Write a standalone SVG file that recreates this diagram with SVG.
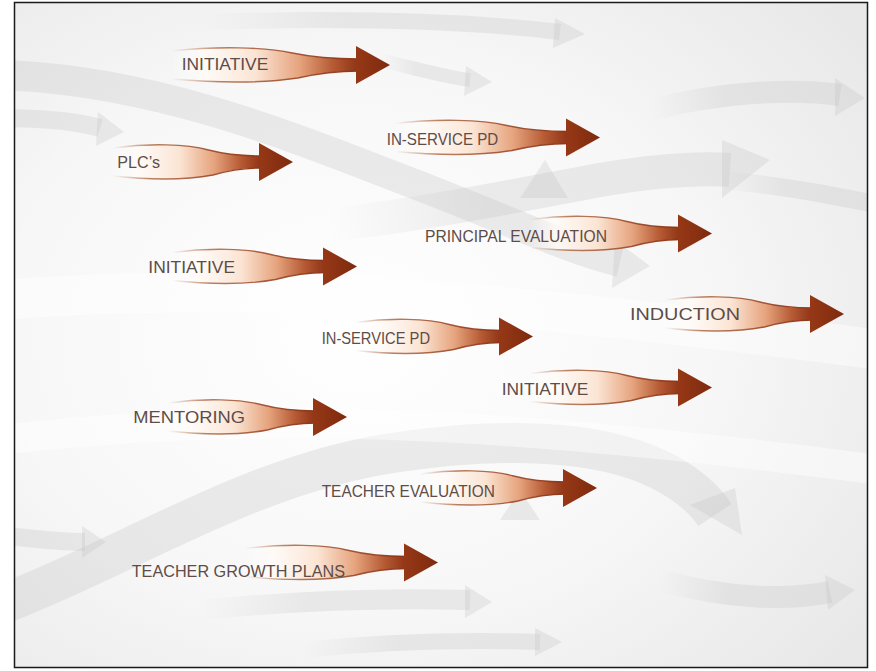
<svg xmlns="http://www.w3.org/2000/svg" xmlns:xlink="http://www.w3.org/1999/xlink" width="876" height="671" viewBox="0 0 876 671">
<style>
.lbl{font-family:"Liberation Sans","DejaVu Sans",sans-serif;font-size:16.5px;fill:#5e4c48;}
.sw{fill:none;stroke:#c4c4c4;stroke-linecap:butt;opacity:0.3;}
.fd{stroke:url(#swFade);}
.swh{fill:#c4c4c4;opacity:0.3;}
.wb{fill:none;stroke:#ffffff;opacity:0.45;}
</style>
<defs>
<clipPath id="frame"><rect x="15" y="3" width="852" height="664"/></clipPath>
<linearGradient id="swFade" x1="0" y1="0" x2="1" y2="0">
<stop offset="0" stop-color="#c4c4c4" stop-opacity="0"/>
<stop offset="0.4" stop-color="#c4c4c4" stop-opacity="1"/>
<stop offset="1" stop-color="#c4c4c4" stop-opacity="1"/>
</linearGradient>
<radialGradient id="bg" cx="0.4" cy="0.5" r="0.75">
<stop offset="0" stop-color="#ffffff"/>
<stop offset="0.55" stop-color="#f7f7f7"/>
<stop offset="1" stop-color="#e8e8e8"/>
</radialGradient>
<linearGradient id="bodyFill" x1="0" y1="0" x2="1" y2="0">
<stop offset="0" stop-color="#ffffff" stop-opacity="0"/>
<stop offset="0.18" stop-color="#fffaf6" stop-opacity="0.85"/>
<stop offset="0.45" stop-color="#fbe4d3"/>
<stop offset="0.68" stop-color="#e6a47e"/>
<stop offset="0.86" stop-color="#b65b34"/>
<stop offset="1" stop-color="#8e3315"/>
</linearGradient>
<linearGradient id="edge" x1="0" y1="0" x2="1" y2="0">
<stop offset="0" stop-color="#b9805f" stop-opacity="0"/>
<stop offset="0.25" stop-color="#b06a48" stop-opacity="0.85"/>
<stop offset="1" stop-color="#8e3315"/>
</linearGradient>
<linearGradient id="headFill" x1="0" y1="0" x2="1" y2="0">
<stop offset="0" stop-color="#963816"/>
<stop offset="1" stop-color="#7e2a0f"/>
</linearGradient>
<path id="body" d="M0,-14 C25,-19 50,-18 65,-12 C78,-7 88,-6 101,-6 L101,6 C88,6 80,8 68,13 C50,18 25,18 0,14 Z" fill="url(#bodyFill)"/>
<path id="edges" d="M0,-14 C25,-19 50,-18 65,-12 C78,-7 88,-6 101,-6 M101,6 C88,6 80,8 68,13 C50,18 25,18 0,14" fill="none" stroke="url(#edge)" stroke-width="1.4" vector-effect="non-scaling-stroke"/>
<path id="head" d="M-1,-6 L-1,-19 L33,0 L-1,19 L-1,6 Z" fill="url(#headFill)"/>
</defs>

<g id="background">
<rect x="0" y="0" width="876" height="671" fill="#ffffff"/>
<rect x="15" y="3" width="852" height="664" fill="url(#bg)"/>
<g clip-path="url(#frame)">
<path class="sw" stroke-width="30" d="M0,75 C160,80 300,140 430,190 C520,225 570,250 620,262"/>
<path class="swh" d="M615,240 L650,266 L612,288 Z"/>
<path class="sw" stroke-width="18" d="M0,118 C50,118 80,122 100,128"/>
<path class="swh" d="M98,112 L124,132 L96,146 Z"/>
<path class="sw fd" stroke-width="16" d="M200,22 C330,18 460,20 560,32"/>
<path class="swh" d="M555,18 L585,34 L553,48 Z"/>
<path class="sw fd" stroke-width="14" d="M380,60 C420,70 450,78 470,80"/>
<path class="swh" d="M466,66 L492,82 L464,96 Z"/>
<path class="sw fd" stroke-width="34" d="M330,225 C420,215 520,195 600,180 C660,170 700,168 730,170"/>
<path class="swh" d="M722,140 L770,160 L722,198 Z"/>
<path class="swh" d="M520,198 L545,160 L568,198 Z"/>
<path class="sw fd" stroke-width="22" d="M650,110 C720,92 790,88 840,95"/>
<path class="swh" d="M835,78 L865,98 L835,116 Z"/>
<path class="sw fd" stroke-width="18" d="M720,180 C780,185 830,195 880,205"/>
<path class="sw" stroke-width="40" d="M0,605 C120,560 240,480 380,455 C500,435 600,440 660,470 C690,485 705,500 715,515"/>
<path class="swh" d="M690,505 L742,535 L735,488 Z"/>
<path class="sw" stroke-width="18" d="M0,535 C40,540 60,542 85,542"/>
<path class="swh" d="M82,526 L106,542 L82,558 Z"/>
<path class="swh" d="M500,520 L520,490 L540,520 Z"/>
<path class="sw fd" stroke-width="20" d="M200,610 C300,600 400,598 470,600"/>
<path class="swh" d="M465,585 L492,602 L465,618 Z"/>
<path class="sw fd" stroke-width="22" d="M660,580 C730,600 790,600 830,592"/>
<path class="swh" d="M825,575 L855,590 L828,610 Z"/>
<path class="sw fd" stroke-width="16" d="M300,650 C400,640 480,640 540,642"/>
<path class="swh" d="M535,628 L562,642 L535,656 Z"/>
<path class="wb" stroke-width="40" d="M0,300 C250,280 500,300 880,350"/>
<path class="wb" stroke-width="30" d="M0,440 C250,410 500,420 880,470"/>
</g>
</g>

<g id="border">
<rect x="14.5" y="2.5" width="853" height="665" fill="none" stroke="#1a1a1a" stroke-width="1.5"/>
</g>

<g id="connectors"></g>

<g id="n1">
<use href="#body" transform="translate(172,65) scale(1.85,1)"/>
<use href="#edges" transform="translate(172,65) scale(1.85,1)"/>
<use href="#head" transform="translate(357,65)"/>
<text class="lbl" x="181.7" y="69.5" textLength="86.6" lengthAdjust="spacingAndGlyphs">INITIATIVE</text>
</g>
<g id="n2">
<use href="#body" transform="translate(395,137.5) scale(1.72,1)"/>
<use href="#edges" transform="translate(395,137.5) scale(1.72,1)"/>
<use href="#head" transform="translate(567,137.5)"/>
<text class="lbl" x="386.7" y="144.5" textLength="111.6" lengthAdjust="spacingAndGlyphs">IN-SERVICE PD</text>
</g>
<g id="n3">
<use href="#body" transform="translate(113,162) scale(1.47,1)"/>
<use href="#edges" transform="translate(113,162) scale(1.47,1)"/>
<use href="#head" transform="translate(260,162)"/>
<text class="lbl" x="117.3" y="168.3" textLength="42.7" lengthAdjust="spacingAndGlyphs">PLC’s</text>
</g>
<g id="n4">
<use href="#body" transform="translate(530,233.5) scale(1.49,1)"/>
<use href="#edges" transform="translate(530,233.5) scale(1.49,1)"/>
<use href="#head" transform="translate(679,233.5)"/>
<text class="lbl" x="425" y="242" textLength="182" lengthAdjust="spacingAndGlyphs">PRINCIPAL EVALUATION</text>
</g>
<g id="n5">
<use href="#body" transform="translate(172,266.5) scale(1.52,1)"/>
<use href="#edges" transform="translate(172,266.5) scale(1.52,1)"/>
<use href="#head" transform="translate(324,266.5)"/>
<text class="lbl" x="148.3" y="273" textLength="86.7" lengthAdjust="spacingAndGlyphs">INITIATIVE</text>
</g>
<g id="n6">
<use href="#body" transform="translate(665,314) scale(1.46,1)"/>
<use href="#edges" transform="translate(665,314) scale(1.46,1)"/>
<use href="#head" transform="translate(811,314)"/>
<text class="lbl" x="630" y="320" textLength="110" lengthAdjust="spacingAndGlyphs">INDUCTION</text>
</g>
<g id="n7">
<use href="#body" transform="translate(355,336.5) scale(1.45,1)"/>
<use href="#edges" transform="translate(355,336.5) scale(1.45,1)"/>
<use href="#head" transform="translate(500,336.5)"/>
<text class="lbl" x="321.7" y="343.5" textLength="108.3" lengthAdjust="spacingAndGlyphs">IN-SERVICE PD</text>
</g>
<g id="n8">
<use href="#body" transform="translate(530,387.5) scale(1.49,1)"/>
<use href="#edges" transform="translate(530,387.5) scale(1.49,1)"/>
<use href="#head" transform="translate(679,387.5)"/>
<text class="lbl" x="501.7" y="395" textLength="86.6" lengthAdjust="spacingAndGlyphs">INITIATIVE</text>
</g>
<g id="n9">
<use href="#body" transform="translate(168,417) scale(1.46,1)"/>
<use href="#edges" transform="translate(168,417) scale(1.46,1)"/>
<use href="#head" transform="translate(314,417)"/>
<text class="lbl" x="133.3" y="423.3" textLength="111.7" lengthAdjust="spacingAndGlyphs">MENTORING</text>
</g>
<g id="n10">
<use href="#body" transform="translate(420,488) scale(1.44,1)"/>
<use href="#edges" transform="translate(420,488) scale(1.44,1)"/>
<use href="#head" transform="translate(564,488)"/>
<text class="lbl" x="321.7" y="497" textLength="173.3" lengthAdjust="spacingAndGlyphs">TEACHER EVALUATION</text>
</g>
<g id="n11">
<use href="#body" transform="translate(245,562.5) scale(1.6,1)"/>
<use href="#edges" transform="translate(245,562.5) scale(1.6,1)"/>
<use href="#head" transform="translate(405,562.5)"/>
<text class="lbl" x="131.7" y="576.5" textLength="213.3" lengthAdjust="spacingAndGlyphs">TEACHER GROWTH PLANS</text>
</g>
</svg>
